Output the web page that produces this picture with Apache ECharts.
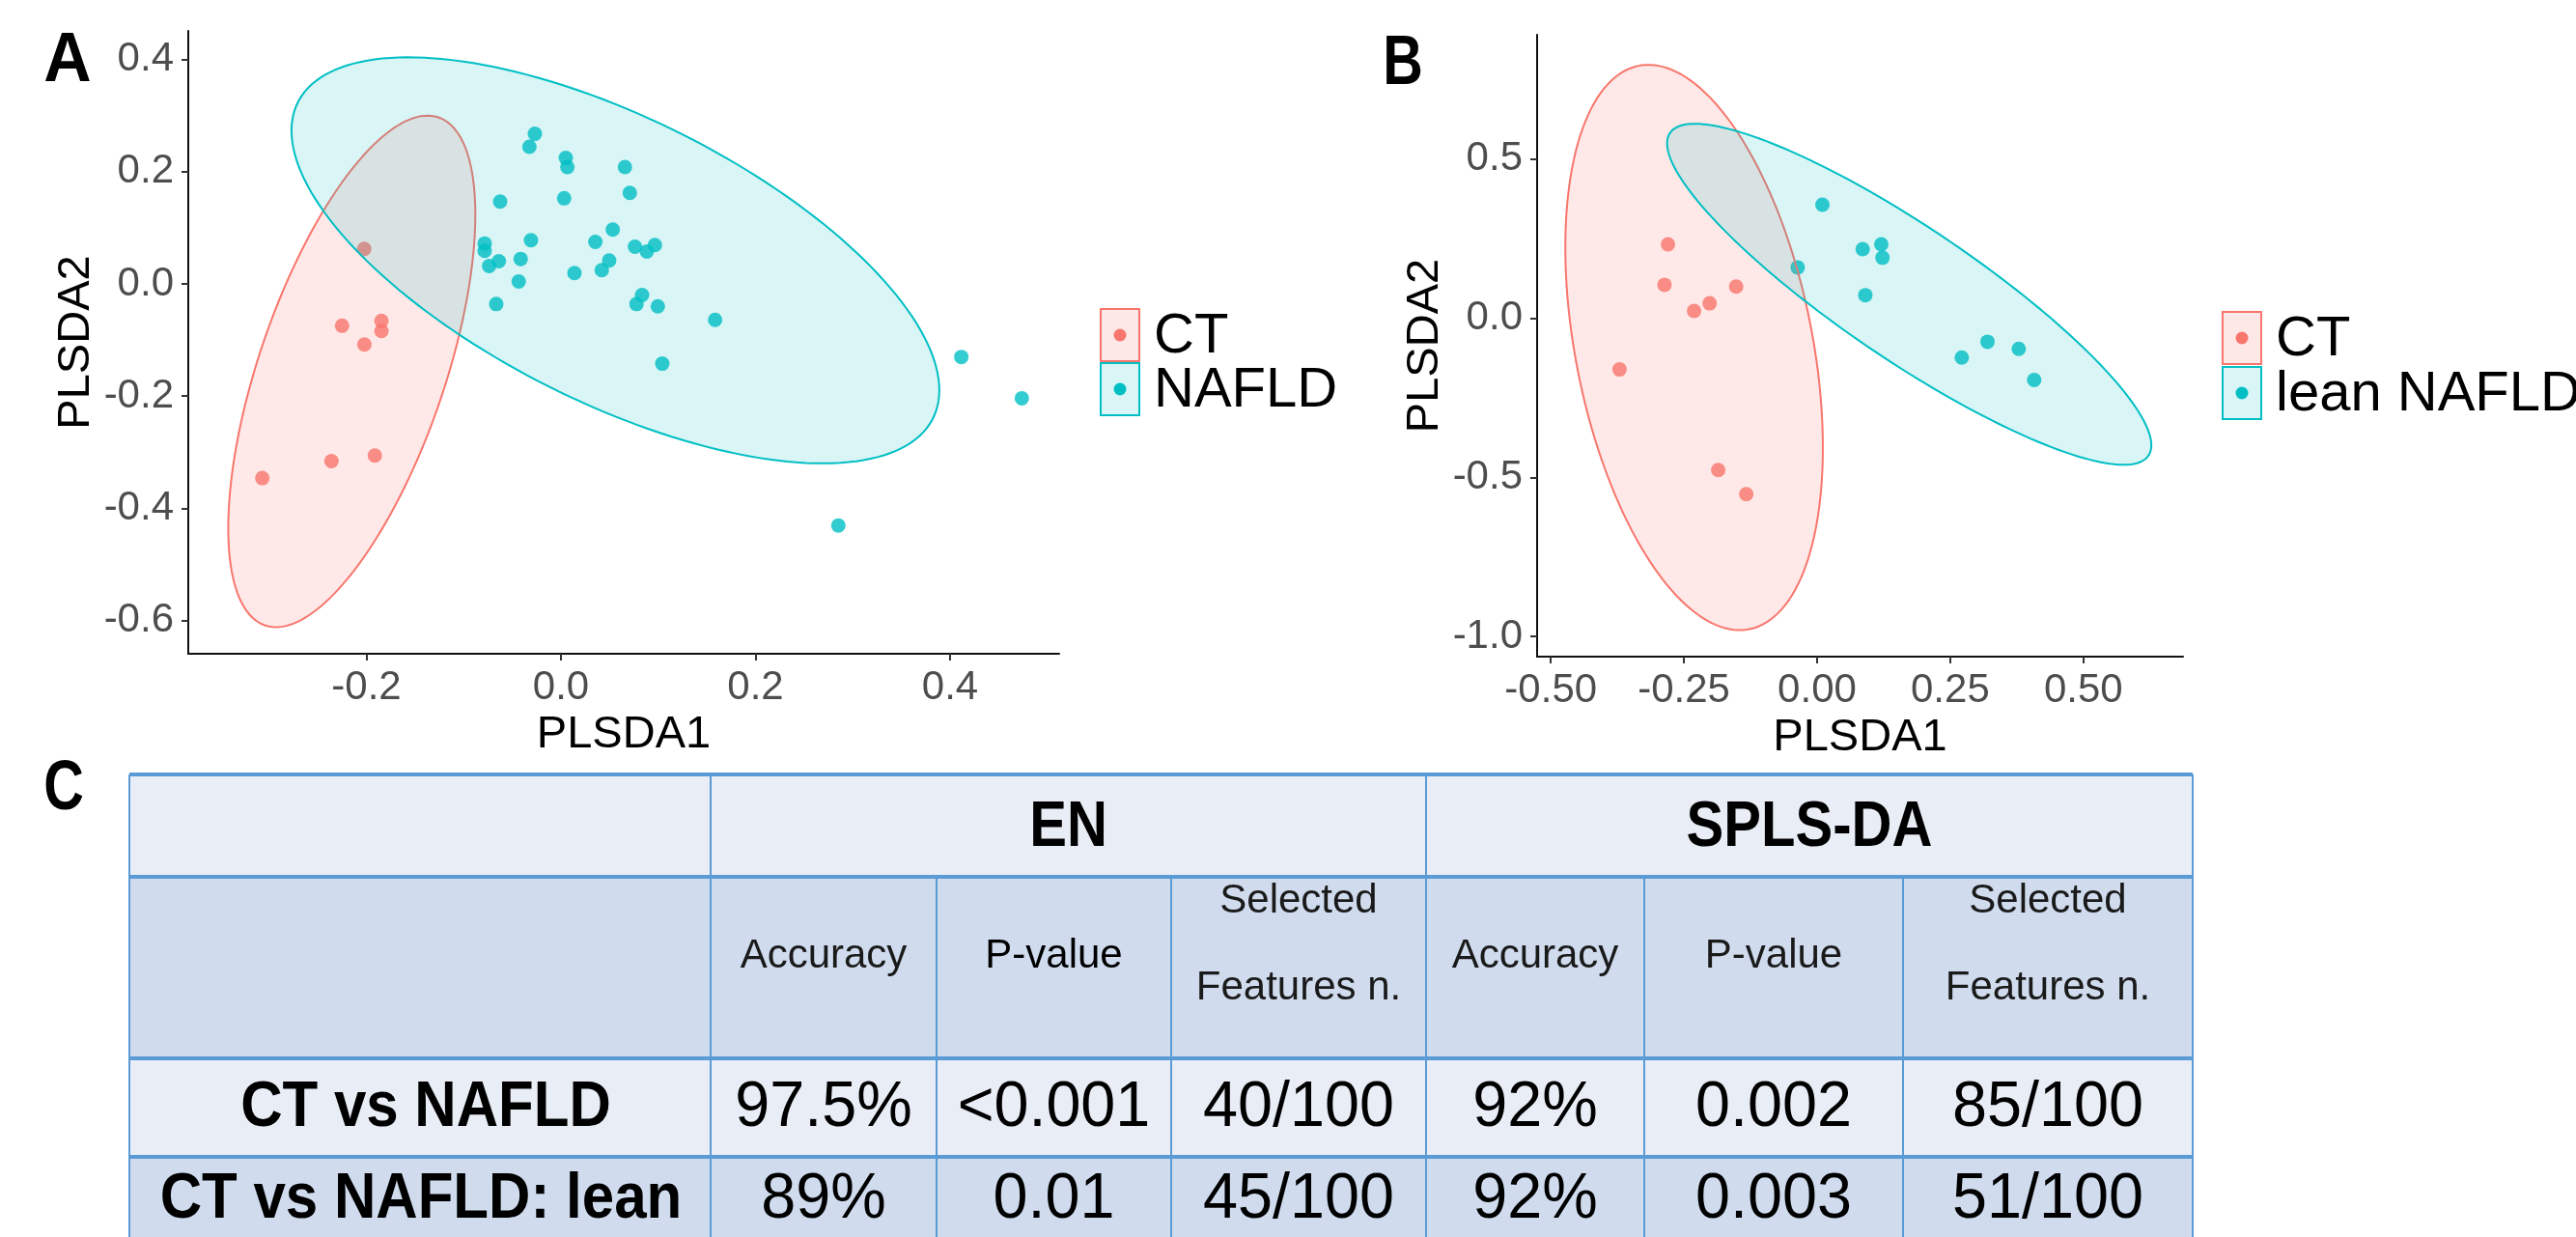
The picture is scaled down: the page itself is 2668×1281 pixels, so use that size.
<!DOCTYPE html>
<html><head><meta charset="utf-8">
<script src="https://cdn.jsdelivr.net/npm/echarts@6/dist/echarts.min.js"></script>
<style>html,body{margin:0;padding:0;background:#fff}#c{width:2668px;height:1281px}</style>
</head><body><div id="c"></div>
<script>
// ---------- data ----------
const ctA = [[-0.2022,0.0624],[-0.225,-0.0746],[-0.1845,-0.066],[-0.1845,-0.084],[-0.202,-0.108],[-0.2359,-0.3158],[-0.1913,-0.306],[-0.307,-0.3462]];
const nafldA = [[-0.0268,0.2676],[-0.0324,0.2445],[0.005,0.2245],[0.0066,0.2083],[0.0658,0.2083],[-0.0625,0.1469],[0.0033,0.1526],[0.0708,0.1624],[-0.0784,0.0721],[-0.0784,0.0589],[-0.0308,0.0779],[0.0354,0.075],[0.0533,0.0969],[-0.0738,0.0319],[-0.0638,0.0405],[-0.0414,0.0445],[-0.0434,0.0043],[0.0139,0.0193],[0.042,0.0245],[0.0496,0.0417],[0.0761,0.0664],[0.0883,0.0578],[0.0966,0.0693],[-0.0665,-0.0359],[0.0834,-0.0198],[0.0777,-0.0359],[0.0996,-0.04],[0.1585,-0.0641],[0.1042,-0.1422],[0.4116,-0.1302],[0.4738,-0.2038],[0.2852,-0.4307]];
const ctB = [[-0.280,0.232],[-0.2865,0.105],[-0.231,0.0226],[-0.2018,0.0467],[-0.152,0.0994],[-0.371,-0.161],[-0.1857,-0.477],[-0.133,-0.553]];
const leanB = [[0.01,0.3564],[-0.0365,0.1596],[0.0856,0.217],[0.1206,0.232],[0.1228,0.19],[0.0906,0.0723],[0.32,-0.074],[0.2717,-0.1236],[0.3787,-0.0963],[0.4077,-0.194]];
// confidence ellipses: [centerX, centerY, halfRangeX, halfRangeY, correlation]
const ellipseCtA = [-0.215,-0.156,0.127,0.456,0.613];
const ellipseNafldA = [0.056,0.042,0.333,0.362,-0.639];
const ellipseCtB = [-0.231,-0.092,0.2418,0.8878,-0.354];
const ellipseLeanB = [0.173,0.075,0.4547,0.5355,-0.885];
// ticks
const xTicksA = [-0.2,0,0.2,0.4];
const yTicksA = [-0.6,-0.4,-0.2,0,0.2,0.4];
const xTicksB = [-0.5,-0.25,0,0.25,0.5];
const yTicksB = [-1,-0.5,0,0.5];
const legendA = ['CT','NAFLD'];
const legendB = ['CT','lean NAFLD'];
// table
const tableGroups = ['EN','SPLS-DA'];
const tableMetrics = ['Accuracy','P-value','Selected\nFeatures n.'];
const tableRows = ['CT vs NAFLD','CT vs NAFLD: lean'];
const tableValues = [['97.5%','<0.001','40/100','92%','0.002','85/100'],['89%','0.01','45/100','92%','0.003','51/100']];

// ---------- style ----------
const FONT = "'Liberation Sans', Arial, sans-serif";
const RED = '#F8766D', TEAL = '#00BFC4';
const RED_FILL = 'rgba(248,118,109,0.16)', TEAL_FILL = 'rgba(0,191,196,0.15)';

function valAxis(gi, min, max, ticks, digits, name, gap, margin) {
  return {type:'value', gridIndex:gi, min, max, name, nameLocation:'middle', nameGap:gap,
    nameTextStyle:{fontFamily:FONT, fontSize:47, color:'#000', verticalAlign:'middle'},
    axisLine:{show:true, onZero:false, lineStyle:{color:'#111', width:2}},
    axisTick:{show:true, length:7, customValues:ticks, lineStyle:{color:'#333', width:2}},
    axisLabel:{show:true, customValues:ticks, margin, formatter:v=>Number(v).toFixed(digits),
      fontFamily:FONT, fontSize:42, color:'#4d4d4d'},
    splitLine:{show:false}};
}
function ellipseSeries(xi, params, stroke, fill) {
  return {type:'custom', xAxisIndex:xi, yAxisIndex:xi, z:3, silent:true, clip:false, data:[params],
    renderItem:(p, api) => {
      const cx=api.value(0), cy=api.value(1), sx=api.value(2), sy=api.value(3), r=api.value(4);
      const k=Math.sqrt(1-r*r), pts=[];
      for (let i=0;i<=180;i++){ const t=i/180*2*Math.PI;
        pts.push(api.coord([cx+sx*Math.cos(t), cy+sy*(r*Math.cos(t)+k*Math.sin(t))])); }
      return {type:'polygon', shape:{points:pts}, style:{fill, stroke, lineWidth:2}};
    }};
}
function scatter(xi, data, color, name) {
  return {type:'scatter', name, xAxisIndex:xi, yAxisIndex:xi, z:2, data, symbol:'circle', symbolSize:15,
    itemStyle:{color}, silent:true};
}

// ---------- graphics (legends, labels, table) ----------
const g = [];
function txt(x, y, text, size, opt) {
  opt = opt || {};
  g.push({type:'text', x, y, scaleX:opt.sx||1, z:20,
    style:{text, fontFamily:FONT, fontSize:size, fontWeight:opt.bold?'bold':'normal', fill:opt.color||'#000',
      align:opt.align||'center', verticalAlign:'middle', lineHeight:opt.lh||size}});
}
function legend(x, ys, labels, colors, fills, textX) {
  labels.forEach((lab,i)=>{
    g.push({type:'rect', shape:{x:x, y:ys[i][0], width:40, height:ys[i][1]-ys[i][0]}, z:20,
      style:{fill:fills[i], stroke:colors[i], lineWidth:2}});
    g.push({type:'circle', shape:{cx:x+20, cy:(ys[i][0]+ys[i][1])/2, r:6.5}, z:21, style:{fill:colors[i]}});
    txt(textX, (ys[i][0]+ys[i][1])/2+2, lab, 58, {align:'left'});
  });
}
legend(1140, [[320,374],[376,430]], legendA, [RED,TEAL], ['#fde8e7','#d9f5f6'], 1195);
legend(2302, [[323,377],[380,434]], legendB, [RED,TEAL], ['#fde8e7','#d9f5f6'], 2357);
txt(70, 64, 'A', 72, {bold:true, sx:0.95});
txt(1453, 67, 'B', 72, {bold:true, sx:0.8});
txt(66, 818, 'C', 72, {bold:true, sx:0.8});

// table
const colX = [134, 736, 970, 1213, 1477, 1703, 1971, 2271];
const rowY = [802, 908, 1096, 1198, 1300];
const LIGHT = '#e9edf6', MED = '#d0dcee', BORDER = '#5b9bd5';
[LIGHT, MED, LIGHT, MED].forEach((c,i)=>{
  g.push({type:'rect', z:10, shape:{x:colX[0], y:rowY[i], width:colX[7]-colX[0], height:rowY[i+1]-rowY[i]}, style:{fill:c}});
});
colX.forEach((x,i)=>{
  const full = (i===0||i===1||i===4||i===7);
  g.push({type:'line', z:11, shape:{x1:x, y1:full?rowY[0]:rowY[1], x2:x, y2:rowY[4]}, style:{stroke:BORDER, lineWidth:2}});
});
rowY.slice(0,4).forEach(y=>{
  g.push({type:'line', z:12, shape:{x1:colX[0], y1:y, x2:colX[7], y2:y}, style:{stroke:BORDER, lineWidth:4}});
});
tableGroups.forEach((t,gi)=>{
  txt((colX[1+gi*3]+colX[4+gi*3])/2, 858, t, 66, {bold:true, sx:0.88});
  tableMetrics.forEach((m,mi)=>{
    const cx = (colX[1+gi*3+mi]+colX[2+gi*3+mi])/2;
    if (m.indexOf('\n')>=0) {
      const parts = m.split('\n');
      txt(cx, 933, parts[0], 42, {color:'#1a1a1a'});
      txt(cx, 1023, parts[1], 42, {color:'#1a1a1a'});
    } else {
      txt(cx, 990, m, 42, {color: m==='P-value' && gi===0 ? '#000' : '#1a1a1a'});
    }
  });
});
const rowCY = [1148, 1243];
tableRows.forEach((r,ri)=>{
  txt((colX[0]+colX[1])/2 + (ri===0?6:1), rowCY[ri], r, 66, {bold:true, sx:0.91});
  tableValues[ri].forEach((v,ci)=>{
    txt((colX[1+ci]+colX[2+ci])/2, rowCY[ri], v, 66, {sx:0.98});
  });
});

// ---------- chart ----------
const chart = echarts.init(document.getElementById('c'), null, {renderer:'canvas', width:2668, height:1281});
chart.setOption({
  backgroundColor:'#fff',
  animation:false,
  grid:[{left:195, top:32, width:902, height:645}, {left:1592, top:36, width:669, height:644}],
  xAxis:[valAxis(0,-0.3831,0.5122,xTicksA,1,'PLSDA1',80,14), valAxis(1,-0.5258,0.6872,xTicksB,2,'PLSDA1',80,14)],
  yAxis:[valAxis(0,-0.6594,0.4511,yTicksA,1,'PLSDA2',116,15), valAxis(1,-1.0631,0.8902,yTicksB,1,'PLSDA2',116,15)],
  series:[
    scatter(0, ctA, RED, 'CT'), scatter(0, nafldA, TEAL, 'NAFLD'),
    scatter(1, ctB, RED, 'CT'), scatter(1, leanB, TEAL, 'lean NAFLD'),
    ellipseSeries(0, ellipseCtA, RED, RED_FILL), ellipseSeries(0, ellipseNafldA, TEAL, TEAL_FILL),
    ellipseSeries(1, ellipseCtB, RED, RED_FILL), ellipseSeries(1, ellipseLeanB, TEAL, TEAL_FILL)
  ],
  graphic:g
});
</script></body></html>
